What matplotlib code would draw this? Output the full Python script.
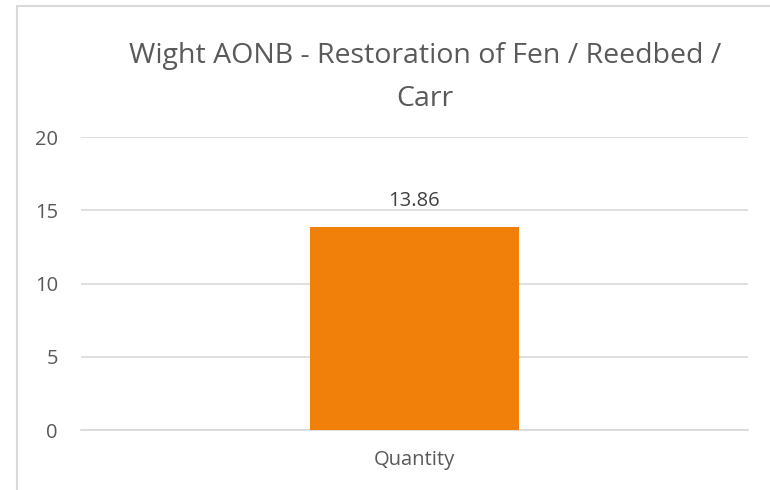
import matplotlib.pyplot as plt
from matplotlib.patches import Rectangle

categories = ["Quantity"]
values = [13.86]
yticks = [0, 5, 10, 15, 20]

plt.rcParams['font.family'] = ['Open Sans', 'DejaVu Sans']

fig = plt.figure(figsize=(7.7, 4.9), dpi=100)
ax = fig.add_axes([0.105, 0.122, 0.866, 0.598])

bars = ax.bar(range(len(categories)), values, width=0.313, color='#F0800A', zorder=3)
ax.set_xlim(-0.5, 0.5)
ax.set_ylim(0, 20)
ax.set_yticks(yticks)
ax.set_xticks(range(len(categories)))
ax.set_xticklabels(categories)

ax.grid(axis='y', color='#d9d9d9', linewidth=1.2, zorder=0)
for s in ['top', 'right', 'left']:
    ax.spines[s].set_visible(False)
ax.spines['bottom'].set_color('#d9d9d9')
ax.spines['bottom'].set_linewidth(1.2)
ax.tick_params(axis='both', length=0, colors='#595959', labelsize=14.5)
ax.tick_params(axis='y', pad=16.5)
ax.tick_params(axis='x', pad=14)

for b, v in zip(bars, values):
    ax.annotate(f"{v:.2f}", (b.get_x() + b.get_width() / 2, v),
                xytext=(0, 19), textcoords='offset points',
                ha='center', va='center', fontsize=14.5, color='#404040')

fig.text(0.552, 1 - 63 / 490, "Wight AONB - Restoration of Fen / Reedbed /",
         ha='center', va='baseline', fontsize=20.5, color='#595959')
fig.text(0.552, 1 - 106 / 490, "Carr",
         ha='center', va='baseline', fontsize=20.5, color='#595959')

# chart border (only left and top visible in crop)
fig.patches.append(Rectangle((17 / 770, -0.1), 1.2, 1 - 6 / 490 + 0.1,
                             transform=fig.transFigure, fill=False,
                             edgecolor='#d9d9d9', linewidth=1.5))

fig.savefig('out.png', dpi=100)
